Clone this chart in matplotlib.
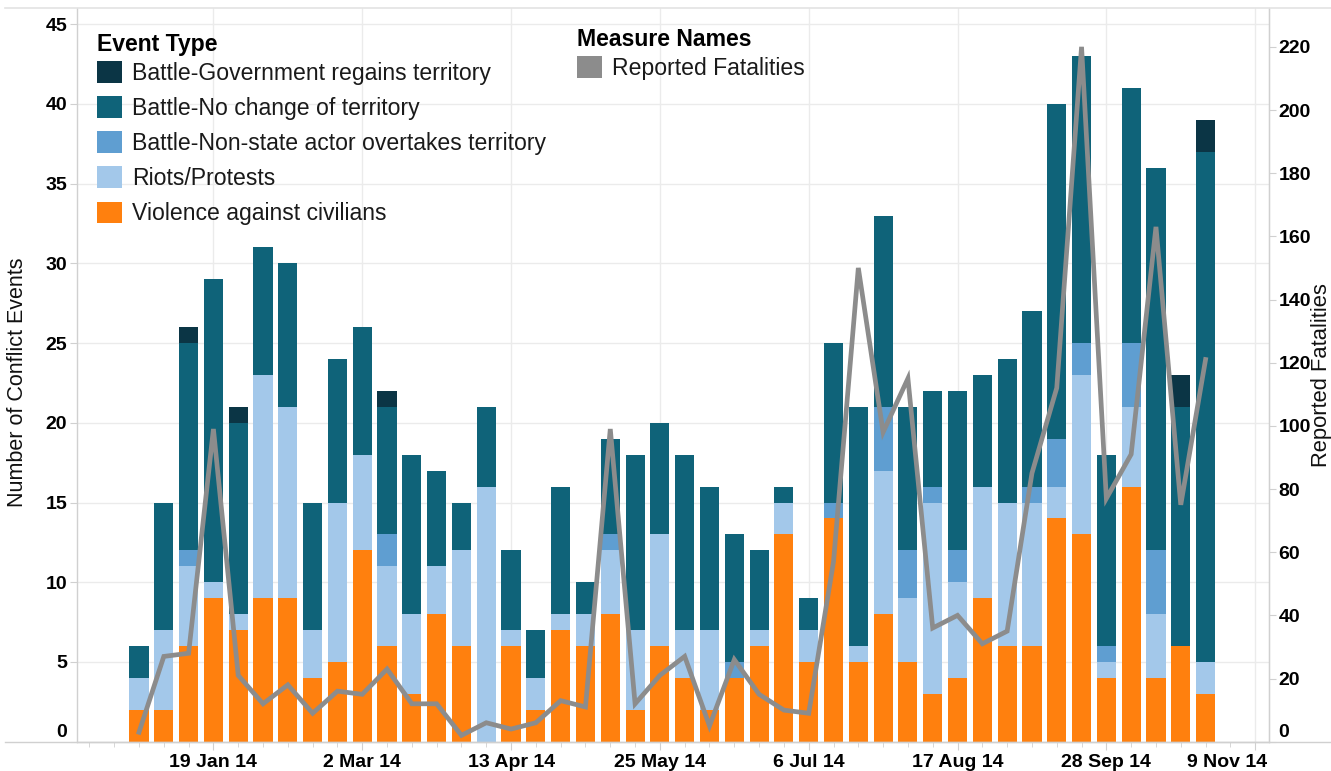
import matplotlib
matplotlib.use('Agg')
import matplotlib.pyplot as plt
import matplotlib.dates as mdates
import matplotlib.ticker as mticker
from matplotlib.patches import Patch
from matplotlib.lines import Line2D
from matplotlib.transforms import ScaledTranslation
import numpy as np
import pandas as pd

plt.rcParams['font.family'] = ['Liberation Sans', 'DejaVu Sans']

# ---------------- data ----------------
weeks = pd.date_range('2013-12-29', periods=44, freq='7D')

violence = [2, 2, 6, 9, 7, 9, 9, 4, 5, 12, 6, 3, 8, 6, 0, 6, 2, 7, 6, 8, 2, 6,
            4, 2, 4, 6, 13, 5, 14, 5, 8, 5, 3, 4, 9, 6, 6, 14, 13, 4, 16, 4, 6, 3]
riots = [2, 5, 5, 1, 1, 14, 12, 3, 10, 6, 5, 5, 3, 6, 16, 1, 2, 1, 2, 4, 5, 7,
         3, 5, 0, 1, 2, 2, 0, 1, 9, 4, 12, 6, 7, 9, 9, 2, 10, 1, 5, 4, 0, 2]
nonstate = [0, 0, 1, 0, 0, 0, 0, 0, 0, 0, 2, 0, 0, 0, 0, 0, 0, 0, 0, 1, 0, 0,
            0, 0, 1, 0, 0, 0, 1, 0, 4, 3, 1, 2, 0, 0, 1, 3, 2, 1, 4, 4, 0, 0]
nochange = [2, 8, 13, 19, 12, 8, 9, 8, 9, 8, 8, 10, 6, 3, 5, 5, 3, 8, 2, 6, 11, 7,
            11, 9, 8, 5, 1, 2, 10, 15, 12, 9, 6, 10, 7, 9, 11, 21, 18, 12, 16, 24, 15, 32]
govregain = [0, 0, 1, 0, 1, 0, 0, 0, 0, 0, 1, 0, 0, 0, 0, 0, 0, 0, 0, 0, 0, 0,
             0, 0, 0, 0, 0, 0, 0, 0, 0, 0, 0, 0, 0, 0, 0, 0, 0, 0, 0, 0, 2, 2]
fatalities = [3, 27, 28, 99, 21, 12, 18, 9, 16, 15, 23, 12, 12, 2, 6, 4, 6, 13, 11, 99, 12, 21,
              27, 5, 26, 15, 10, 9, 57, 150, 98, 115, 36, 40, 31, 35, 85, 112, 220, 77, 91, 163, 75, 121]

event_types = ['Violence against civilians', 'Riots/Protests',
               'Battle-Non-state actor overtakes territory',
               'Battle-No change of territory', 'Battle-Government regains territory']
event_values = [violence, riots, nonstate, nochange, govregain]
event_colors = ['#ff800e', '#a3c8ea', '#5f9ed1', '#0f6379', '#0b3545']
line_color = '#8c8c8c'

major_ticks = pd.to_datetime(['2014-01-19', '2014-03-02', '2014-04-13', '2014-05-25',
                              '2014-07-06', '2014-08-17', '2014-09-28', '2014-11-09'])

# ---------------- figure ----------------
W, H = 1331, 771
fig = plt.figure(figsize=(W / 100, H / 100), dpi=100)
L, R, T, B = 77, 1269, 8.3, 741.7
ax = fig.add_axes([L / W, 1 - B / H, (R - L) / W, (B - T) / H])

bottom = np.zeros(len(weeks))
for name, vals, col in zip(event_types, event_values, event_colors):
    v = np.array(vals, dtype=float)
    ax.bar(weeks, v, bottom=bottom, width=5.4, color=col, linewidth=0, label=name, zorder=2)
    bottom += v

ax.set_xlim(weeks[0] - pd.Timedelta(days=17.5), weeks[0] + pd.Timedelta(days=318.9))
ax.set_ylim(0, 46)
ax.set_yticks(np.arange(0, 46, 5))

ax.xaxis.set_major_locator(mticker.FixedLocator(mdates.date2num(major_ticks)))
ax.xaxis.set_major_formatter(mticker.FuncFormatter(
    lambda x, p: (lambda d: f"{d.day} {d:%b %y}")(mdates.num2date(x))))
ax.xaxis.set_minor_locator(mdates.WeekdayLocator(byweekday=mdates.SU))

grid_c = '#ebebeb'
ax.set_axisbelow(True)
ax.grid(True, which='major', axis='both', color=grid_c, linewidth=1.0, zorder=0)

spine_c = '#d0d0d0'
for s in ['left', 'right', 'bottom']:
    ax.spines[s].set_color(spine_c)
    ax.spines[s].set_linewidth(1.0)
ax.spines['top'].set_visible(False)

ax.tick_params(axis='x', which='major', length=6, color=spine_c, pad=3,
               labelsize=14, labelcolor='black')
ax.tick_params(axis='x', which='minor', length=3.5, color=spine_c)
ax.tick_params(axis='y', which='major', length=5, color=spine_c, pad=2,
               labelsize=14, labelcolor='black')
for lab in ax.get_xticklabels() + ax.get_yticklabels():
    lab.set_fontweight('bold')

ax.set_ylabel('Number of Conflict Events', fontsize=15.5, color='#111111', va='center')
ax.yaxis.set_label_coords((18 - L) / (R - L), 0.49)

# secondary axis with fatalities line
ax2 = ax.twinx()
ax2.plot(weeks, fatalities, color=line_color, linewidth=3.4, solid_joinstyle='miter', zorder=5)
ax2.set_ylim(0, 232.2)
ax2.set_yticks(np.arange(0, 221, 20))
ax2.spines['top'].set_visible(False)
ax2.spines['left'].set_visible(False)
ax2.spines['bottom'].set_visible(False)
ax2.spines['right'].set_color(spine_c)
ax2.tick_params(axis='y', length=5, color=spine_c, pad=2, labelsize=14, labelcolor='black')
for lab in ax2.get_yticklabels():
    lab.set_fontweight('bold')
ax2.set_ylabel('Reported Fatalities', fontsize=15.8, color='#111111', va='center', rotation=90)
ax2.yaxis.set_label_coords((1322 - L) / (R - L), 0.5)

# shift zero labels up and the last x label left (as in the reference)
up = ScaledTranslation(0, 11 / 100, fig.dpi_scale_trans)
ylabs = ax.get_yticklabels()
ylabs[0].set_transform(ylabs[0].get_transform() + up)
y2labs = ax2.get_yticklabels()
y2labs[0].set_transform(y2labs[0].get_transform() + up)
xlabs = ax.get_xticklabels()
xlabs[-1].set_horizontalalignment('right')
xlabs[-1].set_transform(xlabs[-1].get_transform() + ScaledTranslation(12 / 100, 0, fig.dpi_scale_trans))

# frame lines spanning the figure width (top border & baseline)
fig.add_artist(Line2D([5 / W, 1], [1 - T / H, 1 - T / H], color='#e3e3e3', linewidth=1.2))
fig.add_artist(Line2D([5 / W, 1], [1 - B / H, 1 - B / H], color=spine_c, linewidth=1.0))

# legends
FS = 16.6
handles = [Patch(facecolor=c, edgecolor='none') for c in event_colors][::-1]
labels = event_types[::-1]
leg1 = ax2.legend(handles, labels, title='Event Type', loc='upper left',
                  bbox_to_anchor=(97 / W, 1 - 33 / H), bbox_transform=fig.transFigure,
                  frameon=False, fontsize=FS, borderpad=0, borderaxespad=0,
                  handlelength=1.08, handleheight=1.08, handletextpad=0.43,
                  labelspacing=0.49, alignment='left',
                  title_fontproperties={'weight': 'bold', 'size': FS})
leg1._legend_box.sep = 3.8
for t in leg1.get_texts():
    t.set_color('#1a1a1a')
ax2.add_artist(leg1)

leg2 = ax2.legend([Patch(facecolor=line_color, edgecolor='none')], ['Reported Fatalities'],
                  title='Measure Names', loc='upper left',
                  bbox_to_anchor=(577 / W, 1 - 28 / H), bbox_transform=fig.transFigure,
                  frameon=False, fontsize=FS, borderpad=0, borderaxespad=0,
                  handlelength=1.08, handleheight=1.08, handletextpad=0.43,
                  labelspacing=0.49, alignment='left',
                  title_fontproperties={'weight': 'bold', 'size': FS})
leg2._legend_box.sep = 3.8
for t in leg2.get_texts():
    t.set_color('#1a1a1a')

fig.savefig('out.png', dpi=100)
